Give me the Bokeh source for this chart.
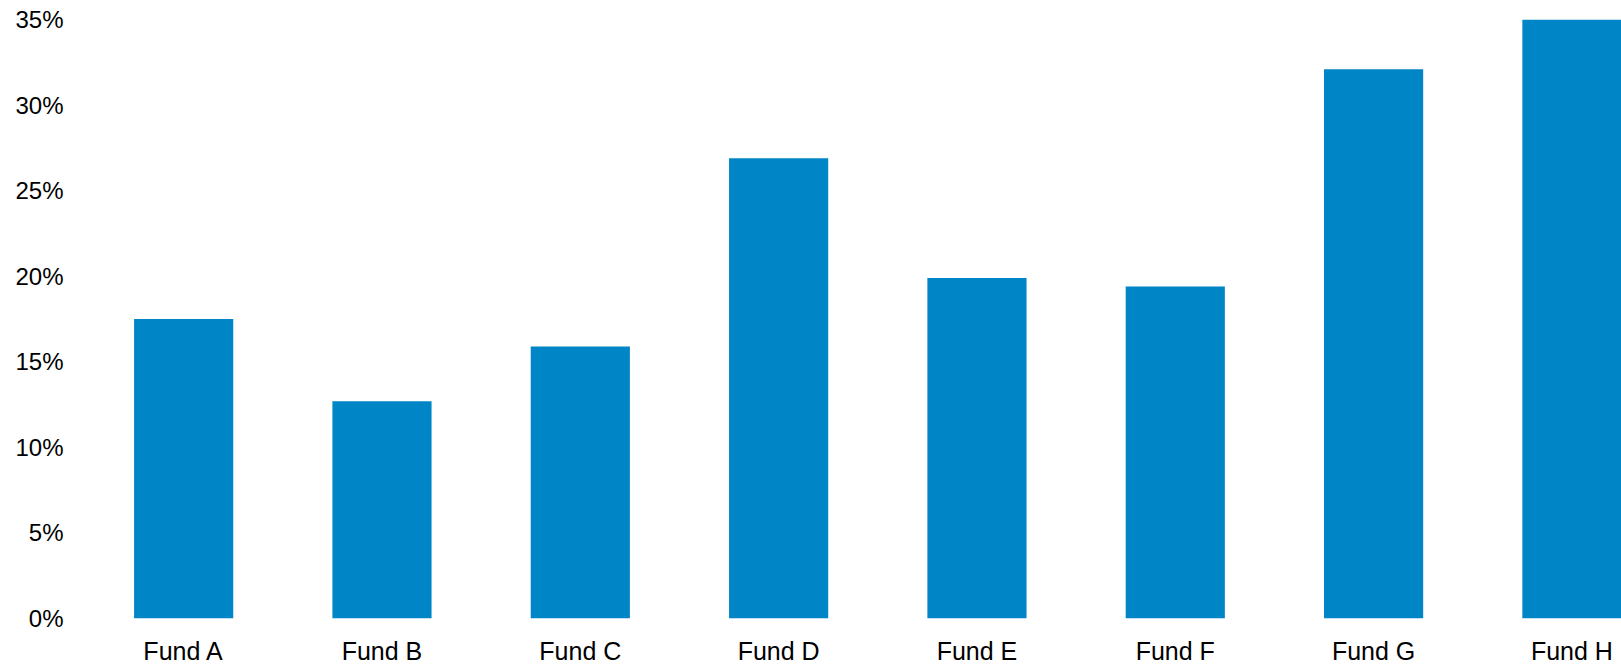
from bokeh.plotting import figure
from bokeh.models import ColumnDataSource, Range1d, FixedTicker, PrintfTickFormatter
from bokeh.embed import file_html
from bokeh.resources import INLINE

# Data
funds = ["Fund A", "Fund B", "Fund C", "Fund D", "Fund E", "Fund F", "Fund G", "Fund H"]
returns_pct = [17.5, 12.7, 15.9, 26.9, 19.9, 19.4, 32.1, 35.0]
y_ticks = [0, 5, 10, 15, 20, 25, 30, 35]

positions = list(range(len(funds)))
source = ColumnDataSource(data=dict(x=positions, top=returns_pct, fund=funds))

p = figure(
    output_backend="svg",
    toolbar_location=None,
    frame_width=1537,
    frame_height=599,
    min_border_left=84,
    min_border_right=0,
    min_border_top=19,
    min_border_bottom=0,
    x_range=Range1d(-0.5, 7.25),
    y_range=Range1d(0, 35),
)

p.vbar(x="x", top="top", bottom=0, width=0.5, source=source,
       fill_color="#0085C6", line_color=None)

FONT = "Liberation Sans"

p.xaxis.ticker = FixedTicker(ticks=positions)
p.xaxis.major_label_overrides = {i: f for i, f in enumerate(funds)}
p.yaxis.ticker = FixedTicker(ticks=y_ticks)
p.yaxis.formatter = PrintfTickFormatter(format="%d%%")

for ax in (p.xaxis, p.yaxis):
    ax.axis_line_color = None
    ax.major_tick_line_color = None
    ax.minor_tick_line_color = None
    ax.major_tick_out = 0
    ax.major_tick_in = 0
    ax.minor_tick_out = 0
    ax.major_label_text_font = FONT
    ax.major_label_text_color = "#000000"

p.xaxis.major_label_text_font_size = "25px"
p.yaxis.major_label_text_font_size = "24px"
p.xaxis.major_label_standoff = 18
p.yaxis.major_label_standoff = 21

p.xgrid.grid_line_color = None
p.ygrid.grid_line_color = None
p.outline_line_color = None
p.background_fill_color = "white"
p.border_fill_color = "white"

open("out.html", "w").write(file_html(p, INLINE))
